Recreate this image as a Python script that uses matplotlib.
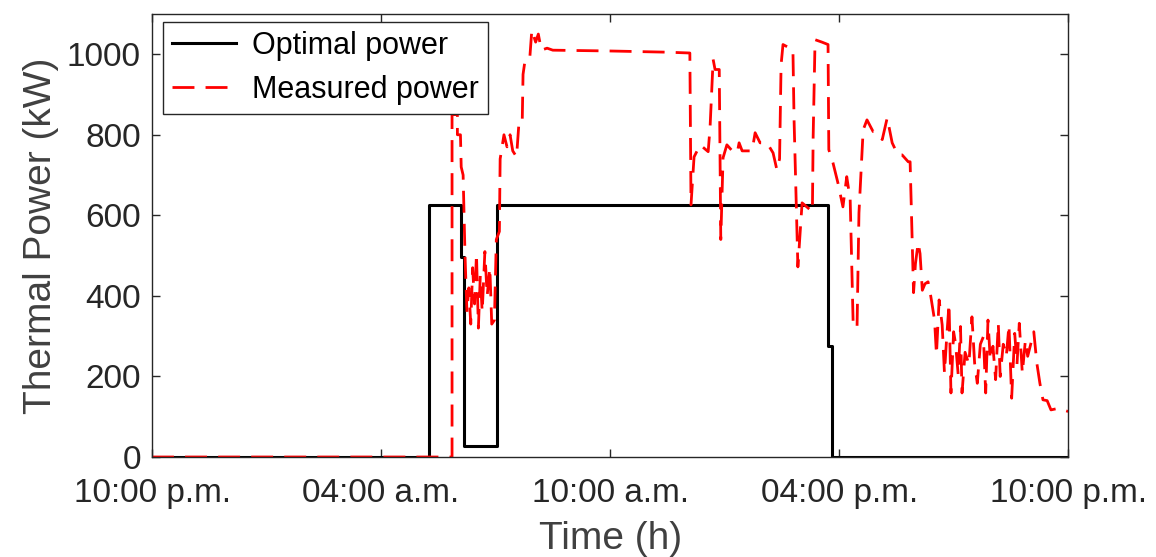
import matplotlib
matplotlib.use("Agg")
import matplotlib.pyplot as plt
import numpy as np

plt.rcParams['font.family'] = ['Liberation Sans', 'DejaVu Sans']

# hours after 10:00 p.m.
tick_hours = [0, 6, 12, 18, 24]
tick_labels = ['10:00 p.m.', '04:00 a.m.', '10:00 a.m.', '04:00 p.m.', '10:00 p.m.']

# optimal power (step profile)
opt_t = [0, 7.26, 7.26, 8.09, 8.09, 8.18, 8.18, 9.03, 9.03, 17.72, 17.72, 17.81, 17.81, 24]
opt_kw = [0, 0, 625, 625, 497, 497, 27, 27, 625, 625, 276, 276, 0, 0]

# measured power
meas_t = [0, 7.86, 7.86, 8.00, 8.00, 8.08, 8.10, 8.15, 8.20, 8.25, 8.30, 8.35, 8.40, 8.45,
          8.50, 8.55, 8.60, 8.65, 8.72, 8.78, 8.85, 8.90, 8.97, 9.02, 9.10, 9.12, 9.22,
          9.30, 9.38, 9.45, 9.55, 9.62, 9.70, 9.72, 9.78, 9.90, 9.95, 10.05, 10.12, 10.20,
          10.35, 10.50, 12.00, 13.50, 14.09,
          14.12, 14.20, 14.36, 14.57, 14.62, 14.70, 14.75, 14.86, 14.90, 14.96, 15.06,
          15.20, 15.33, 15.38, 15.46, 15.61, 15.72, 15.80, 15.93, 16.11, 16.27, 16.37,
          16.44, 16.48, 16.53, 16.79, 16.82, 16.92, 17.03, 17.30, 17.32, 17.37, 17.55,
          17.71, 17.73, 17.84, 17.97, 18.10, 18.20, 18.29, 18.37, 18.47, 18.52, 18.63,
          18.73, 18.89, 18.94, 19.13, 19.26, 19.33, 19.39, 19.54, 19.65, 19.81, 19.86,
          19.95, 20.00, 20.07, 20.12, 20.18, 20.25, 20.33, 20.40, 20.50, 20.55, 20.62,
          20.70, 20.76, 20.82, 20.88, 20.93, 21.00, 21.05, 21.12, 21.18, 21.22, 21.30,
          21.40, 21.48, 21.55, 21.62, 21.70, 21.78, 21.84, 21.90, 21.96, 22.03, 22.10,
          22.17, 22.22, 22.30, 22.38, 22.45, 22.52, 22.60, 22.66, 22.72, 22.80, 22.88,
          22.94, 23.02, 23.10, 23.18, 23.26, 23.34, 23.45, 23.55, 23.75, 24.00]
meas_kw = [0, 0, 850, 850, 800, 800, 720, 700, 500, 360, 420, 330, 470, 380,
           505, 320, 450, 360, 510, 400, 470, 330, 340, 540, 560, 740, 800,
           770, 800, 760, 745, 840, 840, 950, 990, 995, 1060, 1030, 1050, 1010,
           1015, 1010, 1008, 1005, 1003,
           626, 745, 775, 758, 820, 987, 962, 962, 540, 743, 775,
           760, 755, 780, 760, 760, 760, 805, 780, 780, 755, 713,
           740, 974, 1024, 1011, 837, 472, 631, 609, 795, 1036, 1030,
           1024, 763, 730, 680, 621, 696, 639, 323, 323, 606, 812,
           837, 808, 808, 788, 842, 808, 780, 750, 750, 733, 733,
           408, 480, 532, 505, 414, 430, 435, 400, 340, 254, 390,
           328, 208, 300, 381, 159, 311, 282, 204, 324, 159, 260,
           230, 348, 233, 183, 280, 299, 159, 340, 241, 275, 192,
           332, 200, 280, 250, 328, 146, 307, 230, 332, 208, 290,
           250, 280, 311, 233, 183, 142, 140, 117, 121, 113]

fig = plt.figure(figsize=(11.56, 5.57), dpi=100)
ax = fig.add_axes([0.1315, 0.1795, 0.7925, 0.7955])

ax.plot(opt_t, opt_kw, color='k', linewidth=2.2, label='Optimal power')
ax.plot(meas_t, meas_kw, color='#ff0000', linewidth=2.0,
        linestyle=(0, (7.9, 4.0)), label='Measured power')

ax.set_xlim(0, 24)
ax.set_ylim(0, 1100)
ax.set_xticks(tick_hours)
ax.set_xticklabels(tick_labels)
ax.set_yticks([0, 200, 400, 600, 800, 1000])

ax.tick_params(direction='in', length=6, width=1, top=True, right=True,
               labelsize=24, colors='#262626')
ax.tick_params(axis='x', pad=15)
ax.tick_params(axis='y', pad=8)
for s in ax.spines.values():
    s.set_color('#262626')
    s.set_linewidth(1)

ax.set_xlabel('Time (h)', fontsize=28, color='#404040', labelpad=9)
ax.set_ylabel('Thermal Power (kW)', fontsize=28, color='#404040', labelpad=6)

leg = ax.legend(loc='upper left', bbox_to_anchor=(0.012, 0.982), fontsize=22,
                frameon=True, fancybox=False, framealpha=1, edgecolor='#262626',
                handlelength=2.1, borderpad=0.3, labelspacing=0.45,
                handletextpad=0.5, borderaxespad=0)
leg.get_frame().set_linewidth(1)

fig.savefig('out.png', dpi=100)
